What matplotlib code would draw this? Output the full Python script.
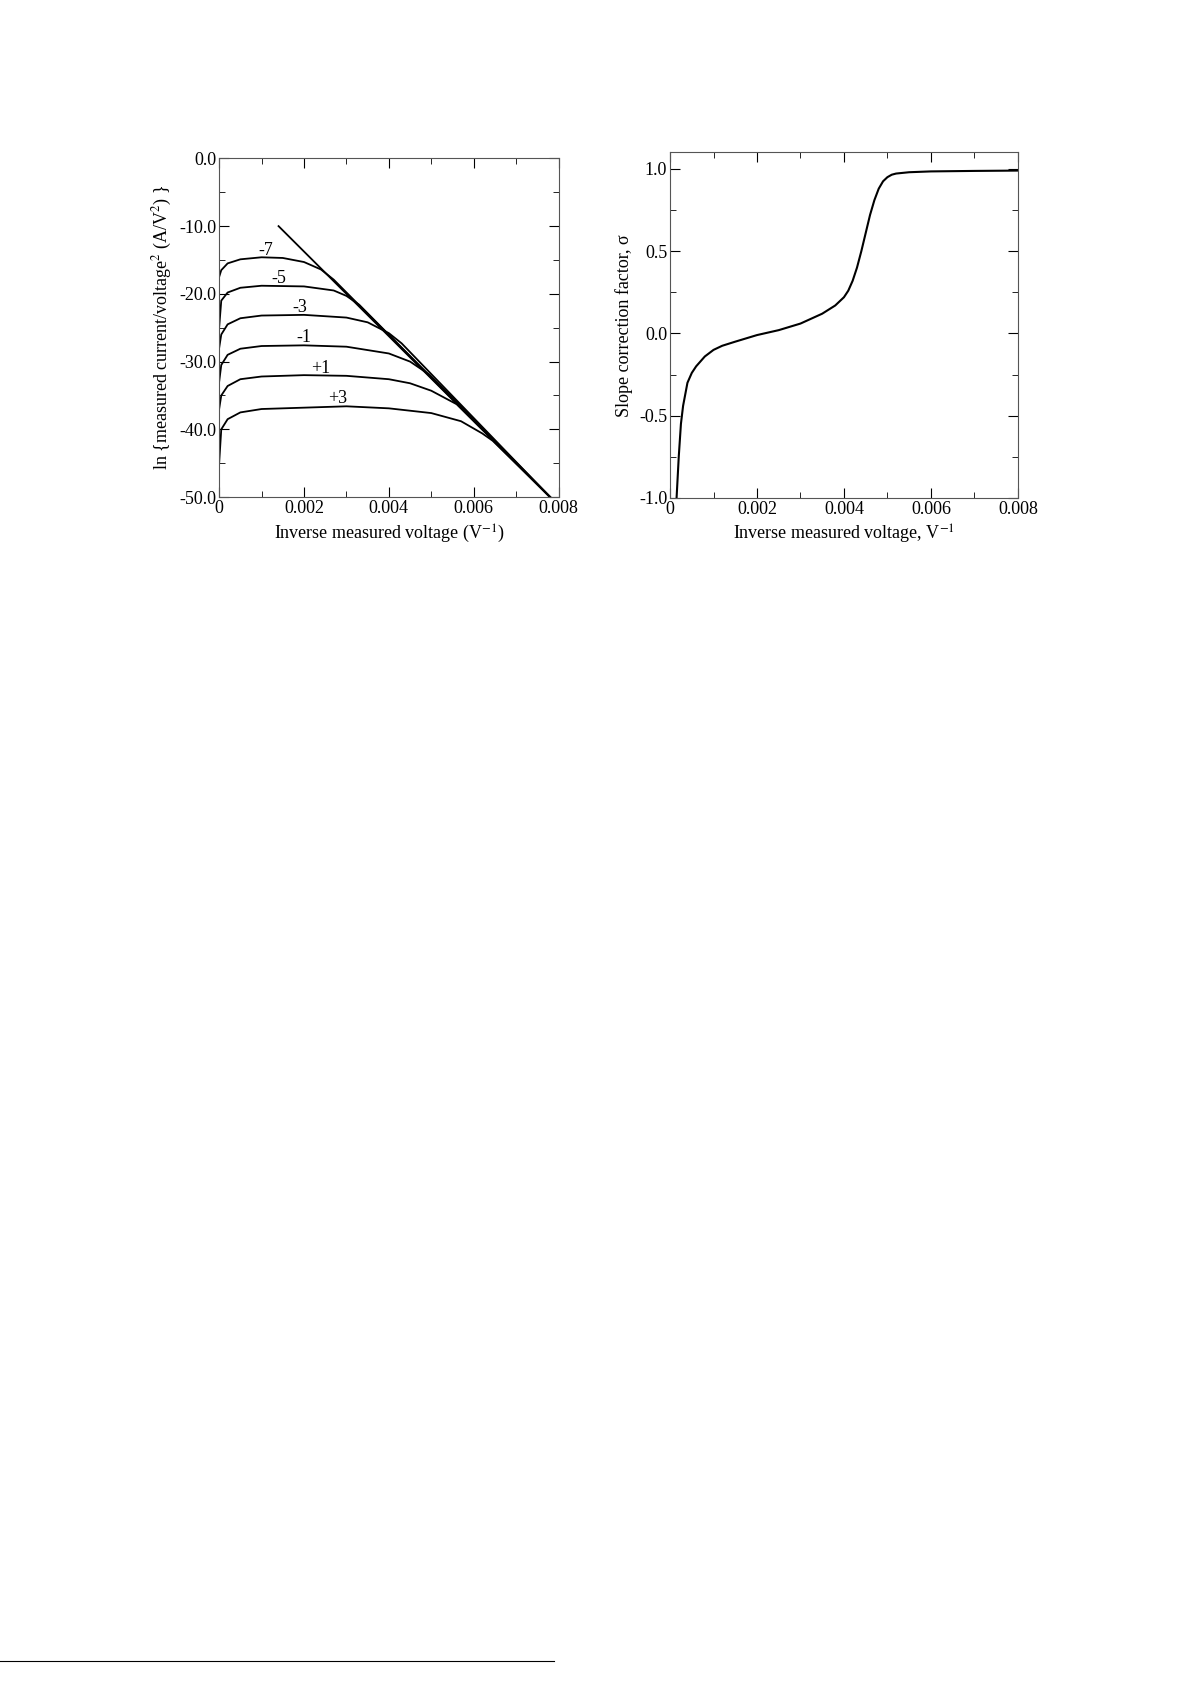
import matplotlib
matplotlib.use("Agg")
import matplotlib.pyplot as plt
from matplotlib.ticker import MultipleLocator, FixedFormatter, FixedLocator

plt.rcParams['font.family'] = ['Liberation Serif', 'DejaVu Serif']
plt.rcParams['mathtext.fontset'] = 'stix'

# Left panel data
tangent_x = [0.0014, 0.0078]
tangent_y = [-10.0, -50.0]
curve_labels = ["-7", "-5", "-3", "-1", "+1", "+3"]
curve_x = [
    [0, 0.00005, 0.0002, 0.0005, 0.001, 0.0015, 0.002, 0.0024, 0.0027],
    [0, 0.00005, 0.0002, 0.0005, 0.001, 0.002, 0.0027, 0.003, 0.0033, 0.0036],
    [0, 0.00005, 0.0002, 0.0005, 0.001, 0.002, 0.003, 0.0035, 0.004, 0.0043],
    [0, 0.00005, 0.0002, 0.0005, 0.001, 0.002, 0.003, 0.004, 0.0045, 0.00495],
    [0, 0.00005, 0.0002, 0.0005, 0.001, 0.002, 0.003, 0.004, 0.0045, 0.005, 0.0056],
    [0, 0.00005, 0.0002, 0.0005, 0.001, 0.002, 0.003, 0.004, 0.005, 0.0057, 0.0062, 0.00645],
]
curve_y = [
    [-17.5, -16.5, -15.5, -14.9, -14.6, -14.7, -15.3, -16.4, -17.9],
    [-25.0, -21.0, -19.8, -19.1, -18.8, -18.9, -19.5, -20.3, -21.6, -23.5],
    [-28.0, -26.0, -24.5, -23.6, -23.2, -23.1, -23.5, -24.2, -25.8, -27.3],
    [-33.0, -30.5, -29.0, -28.1, -27.7, -27.6, -27.8, -28.8, -30.0, -31.9],
    [-37.0, -35.0, -33.6, -32.6, -32.2, -32.0, -32.1, -32.6, -33.2, -34.3, -36.3],
    [-45.0, -40.0, -38.5, -37.5, -37.0, -36.8, -36.6, -36.9, -37.6, -38.8, -40.6, -41.7],
]
label_x = [0.0011, 0.0014, 0.0019, 0.0020, 0.0024, 0.0028]
label_y = [-13.6, -17.8, -22.0, -26.5, -31.0, -35.4]

# Right panel data
sigma_x = [0.00015, 0.0002, 0.00025, 0.0003, 0.0004, 0.0005, 0.0006, 0.0008, 0.001, 0.0012,
           0.0015, 0.002, 0.0025, 0.003, 0.0035, 0.0038, 0.004, 0.0041, 0.0042, 0.0043,
           0.0044, 0.0045, 0.0046, 0.0047, 0.0048, 0.0049, 0.005, 0.0051, 0.0052, 0.0055,
           0.006, 0.007, 0.008]
sigma_y = [-1.0, -0.75, -0.55, -0.44, -0.3, -0.24, -0.2, -0.14, -0.1, -0.075,
           -0.05, -0.01, 0.02, 0.06, 0.12, 0.17, 0.22, 0.26, 0.32, 0.40,
           0.50, 0.61, 0.72, 0.81, 0.88, 0.925, 0.95, 0.965, 0.972, 0.98,
           0.985, 0.988, 0.99]

fig = plt.figure(figsize=(11.91, 16.85), dpi=100)
ax1 = fig.add_axes([0.184, 0.705, 0.285, 0.201])
ax2 = fig.add_axes([0.5626, 0.7045, 0.292, 0.205])

lw = 1.3
ax1.plot(tangent_x, tangent_y, color='black', lw=lw)
for xs, ys in zip(curve_x, curve_y):
    ax1.plot(xs + [tangent_x[1]], ys + [tangent_y[1]], color='black', lw=lw)
for t, x, y in zip(curve_labels, label_x, label_y):
    ax1.text(x, y, t, fontsize=13, ha='center', va='center')
ax1.set_xlim(0, 0.008)
ax1.set_ylim(-50, 0)
ax1.set_xticks([0, 0.002, 0.004, 0.006, 0.008])
ax1.set_xticklabels(["0", "0.002", "0.004", "0.006", "0.008"])
ax1.set_yticks([0, -10, -20, -30, -40, -50])
ax1.set_yticklabels(["0.0", "-10.0", "-20.0", "-30.0", "-40.0", "-50.0"])
ax1.xaxis.set_minor_locator(MultipleLocator(0.001))
ax1.yaxis.set_minor_locator(MultipleLocator(5))
ax1.set_xlabel(r"Inverse measured voltage (V$^{-1}$)", fontsize=13)
ax1.set_ylabel(r"ln {measured current/voltage$^{2}$ (A/V$^{2}$) }", fontsize=13)

ax2.plot(sigma_x, sigma_y, color='black', lw=1.5)
ax2.set_xlim(0, 0.008)
ax2.set_ylim(-1.0, 1.1)
ax2.set_xticks([0, 0.002, 0.004, 0.006, 0.008])
ax2.set_xticklabels(["0", "0.002", "0.004", "0.006", "0.008"])
ax2.set_yticks([-1.0, -0.5, 0.0, 0.5, 1.0])
ax2.set_yticklabels(["-1.0", "-0.5", "0.0", "0.5", "1.0"])
ax2.xaxis.set_minor_locator(MultipleLocator(0.001))
ax2.yaxis.set_minor_locator(MultipleLocator(0.25))
ax2.set_xlabel(r"Inverse measured voltage, V$^{-1}$", fontsize=13)
ax2.set_ylabel(r"Slope correction factor, σ", fontsize=13)

for ax in (ax1, ax2):
    ax.tick_params(which='both', direction='in', top=True, right=True, labelsize=13, pad=2)
    ax.tick_params(which='major', length=7)
    ax.tick_params(which='minor', length=4)
    for s in ax.spines.values():
        s.set_linewidth(0.8)
        s.set_color('#555555')

fig.add_artist(plt.Line2D([0.0, 0.465], [0.0145, 0.0145], color='black', lw=0.8))

fig.savefig("out.png", dpi=100)
